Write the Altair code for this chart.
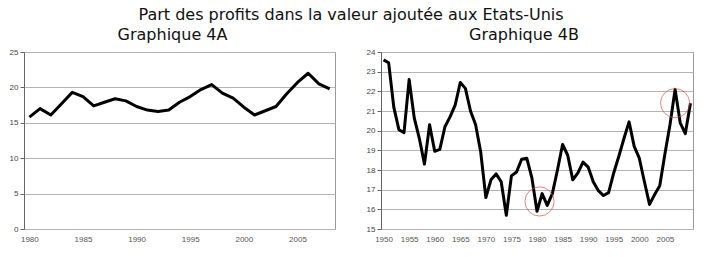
import altair as alt
import pandas as pd

# ---- data ----
years_a = list(range(1980, 2009))
share_a = [15.8, 17.0, 16.1, 17.7, 19.3, 18.7, 17.4, 17.9, 18.4, 18.1,
           17.3, 16.8, 16.6, 16.8, 17.9, 18.7, 19.7, 20.4, 19.2, 18.5,
           17.2, 16.1, 16.7, 17.3, 19.1, 20.7, 22.0, 20.5, 19.8]

years_b = list(range(1950, 2011))
share_b = [23.6, 23.45, 21.2, 20.05, 19.9, 22.6, 20.65, 19.6, 18.3, 20.3,
           18.95, 19.05, 20.2, 20.7, 21.3, 22.45, 22.15, 21.0, 20.3, 18.9,
           16.6, 17.5, 17.8, 17.4, 15.7, 17.7, 17.9, 18.55, 18.6, 17.6,
           15.9, 16.8, 16.2, 16.8, 18.0, 19.3, 18.75, 17.5, 17.85, 18.4,
           18.15, 17.4, 16.95, 16.7, 16.85, 17.85, 18.7, 19.6, 20.45, 19.2,
           18.6, 17.4, 16.25, 16.75, 17.2, 18.8, 20.3, 22.1, 20.4, 19.85,
           21.4]

ticks_a = [1980, 1985, 1990, 1995, 2000, 2005]
ticks_b = [1950, 1955, 1960, 1965, 1970, 1975, 1980, 1985, 1990, 1995, 2000, 2005]
yticks_a = [0, 5, 10, 15, 20, 25]
yticks_b = [15, 16, 17, 18, 19, 20, 21, 22, 23, 24]

circle_years = [1980.5, 2007]
circle_vals = [16.4, 21.4]

main_title = "Part des profits dans la valeur ajoutée aux Etats-Unis"
title_a = "Graphique 4A"
title_b = "Graphique 4B"

FONT = "DejaVu Sans"
AXFONT = "Liberation Sans"

df_a = pd.DataFrame({"year": years_a, "share": share_a})
df_b = pd.DataFrame({"year": years_b, "share": share_b})
df_c = pd.DataFrame({"year": circle_years, "share": circle_vals})


def xaxis(vals):
    return alt.Axis(values=vals, format="d", title=None, grid=False, domain=False,
                    labelFont=AXFONT, labelFontSize=8, labelColor="#555555",
                    ticks=False, labelPadding=6, labelOverlap=False)


def yaxis(vals):
    return alt.Axis(values=vals, title=None, grid=True, gridColor="#b4b4b4",
                    gridWidth=1, domain=True, domainColor="#666666",
                    tickColor="#666666", tickSize=4, labelPadding=2,
                    labelOverlap=False,
                    labelFont=AXFONT, labelFontSize=8, labelColor="#444444")


def enc(xdom, xticks, ydom, yticks):
    return dict(
        x=alt.X("year:Q", scale=alt.Scale(domain=xdom, nice=False, zero=False),
                axis=xaxis(xticks)),
        y=alt.Y("share:Q", scale=alt.Scale(domain=ydom, nice=False, zero=False),
                axis=yaxis(yticks)),
    )


def ttl(text, dx):
    return alt.TitleParams(text, font=FONT, fontSize=16, fontWeight="normal",
                           color="#111111", anchor="middle", offset=5, dx=dx)


enc_a = enc([1979.5, 2008.5], ticks_a, [0, 25], yticks_a)
enc_b = enc([1949.5, 2010.5], ticks_b, [15, 24], yticks_b)

left = alt.Chart(df_a).mark_line(color="black", strokeWidth=3,
                                 strokeJoin="round").encode(**enc_a).properties(
    width=311, height=177, title=ttl(title_a, -7))

line_b = alt.Chart(df_b).mark_line(color="black", strokeWidth=3,
                                   strokeJoin="round").encode(**enc_b)
circles = alt.Chart(df_c).mark_point(shape="circle", size=850, filled=False,
                                     color="#d9534f", strokeWidth=1).encode(**enc_b)
right = alt.layer(line_b, circles).properties(
    width=312, height=177, title=ttl(title_b, -13))

chart = alt.hconcat(left, right, spacing=29).properties(
    title=alt.TitleParams(main_title, font=FONT, fontSize=16, fontWeight="normal",
                          color="#111111", anchor="middle", offset=4),
    padding={"left": 8, "top": 6, "right": 5, "bottom": 5},
    background="white",
).configure_view(stroke="#9a9a9a", strokeWidth=1)

chart.save("out.html", embed_options={"renderer": "svg", "actions": False})
